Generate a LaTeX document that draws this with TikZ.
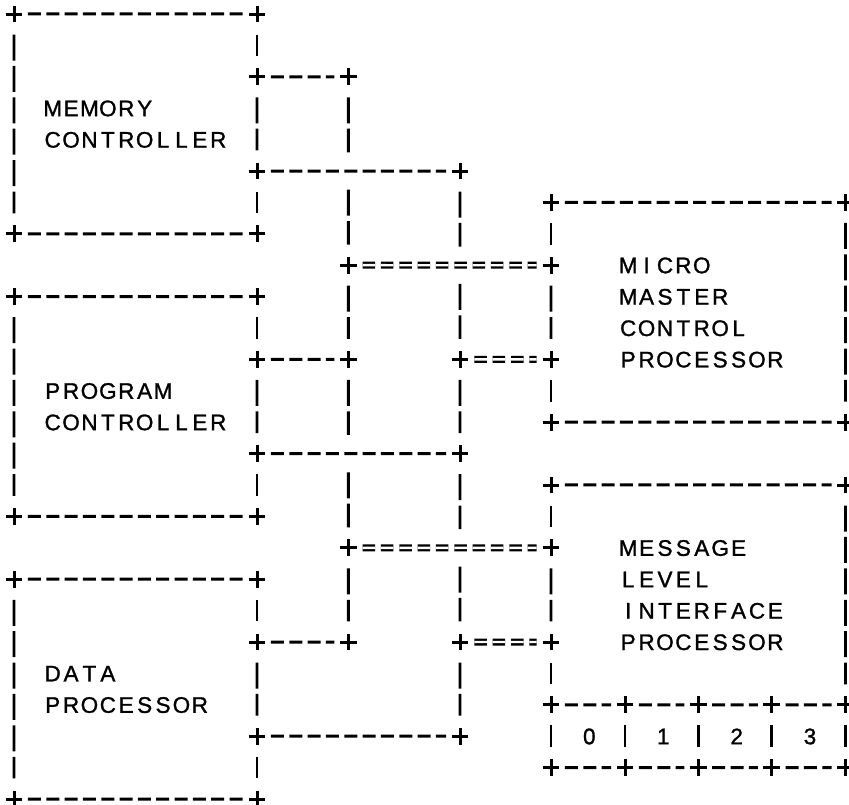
\documentclass[tikz,border=0pt]{standalone}
\usepackage{fontspec}
\setmainfont{Liberation Sans}
\newfontfamily\lettering{Liberation Sans}[FakeBold=1.2]
\usetikzlibrary{shapes.misc}

% fixed-pitch lettering: every character sits in a cell of equal width
\newcommand\cellw{18.4pt}
\newcommand\tracked[1]{\trackedA#1\relax}
\def\trackedA#1{\ifx#1\relax\else\makebox[\cellw][c]{#1}\expandafter\trackedA\fi}

% junction mark at column x, text row r
\newcommand\junc[4][junction]{\node[#1] (#2) at (#3,{14+31.4*#4}) {};}

\begin{document}
\begin{tikzpicture}[x=1pt,y=-1pt,
  junction/.style={cross out, draw, rotate=45, minimum size=8.8pt,
                   inner sep=0pt, line width=3pt},
  hiddenjunc/.style={cross out, rotate=45, minimum size=8.8pt, inner sep=0pt},
  hbus/.style={line width=3pt, dash pattern=on 13pt off 5.33pt,
               shorten <=5.6pt, shorten >=5.6pt},
  vbus/.style={line width=2.9pt, dash pattern=on 26pt off 5.4pt,
               shorten <=12.2pt, shorten >=12.2pt},
  dbus/.style={line width=2.3pt, double, double distance=2.4pt,
               dash pattern=on 12.5pt off 5.83pt,
               shorten <=6pt, shorten >=6pt},
  boxtext/.style={font=\lettering\fontsize{22.5pt}{22.5pt}\selectfont,
                  inner sep=0pt, anchor=base west},
  digit/.style={font=\lettering\fontsize{22.5pt}{22.5pt}\selectfont,
                inner sep=0pt, anchor=base}]

\useasboundingbox (0,0) rectangle (849,804);
\fill[white] (0,0) rectangle (849,804);

% column positions
\def\xA{14}   \def\xB{257}  \def\xC{348.3} \def\xD{460}
\def\xE{551}  \def\xF{845.5}
\def\xGa{625} \def\xGb{698.3} \def\xGc{771.7}

% memory controller box
\junc{A0}{\xA}{0} \junc{B0}{\xB}{0} \junc{B2}{\xB}{2} \junc{B5}{\xB}{5}
\junc{A7}{\xA}{7} \junc{B7}{\xB}{7}
% program controller box
\junc{A9}{\xA}{9} \junc{B9}{\xB}{9} \junc{B11}{\xB}{11} \junc{B14}{\xB}{14}
\junc{A16}{\xA}{16} \junc{B16}{\xB}{16}
% data processor box
\junc{A18}{\xA}{18} \junc{B18}{\xB}{18} \junc{B20}{\xB}{20} \junc{B23}{\xB}{23}
\junc{A25}{\xA}{25} \junc{B25}{\xB}{25}
% bus columns
\junc{C2}{\xC}{2} \junc[hiddenjunc]{C5}{\xC}{5} \junc{C8}{\xC}{8}
\junc{C11}{\xC}{11} \junc[hiddenjunc]{C14}{\xC}{14} \junc{C17}{\xC}{17}
\junc{C20}{\xC}{20}
\junc{D5}{\xD}{5} \junc[hiddenjunc]{D8}{\xD}{8} \junc{D11}{\xD}{11}
\junc{D14}{\xD}{14} \junc[hiddenjunc]{D17}{\xD}{17} \junc{D20}{\xD}{20}
\junc{D23}{\xD}{23}
% micro master control processor box
\junc{E6}{\xE}{6} \junc{F6}{\xF}{6} \junc{E8}{\xE}{8} \junc{E11}{\xE}{11}
\junc{E13}{\xE}{13} \junc{F13}{\xF}{13}
% message level interface processor box with its port strip
\junc{E15}{\xE}{15} \junc{F15}{\xF}{15} \junc{E17}{\xE}{17} \junc{E20}{\xE}{20}
\junc{E22}{\xE}{22} \junc{Ga22}{\xGa}{22} \junc{Gb22}{\xGb}{22}
\junc{Gc22}{\xGc}{22} \junc{F22}{\xF}{22}
\junc{E24}{\xE}{24} \junc{Ga24}{\xGa}{24} \junc{Gb24}{\xGb}{24}
\junc{Gc24}{\xGc}{24} \junc{F24}{\xF}{24}

% single horizontal runs
\foreach \a/\b in {A0/B0, A7/B7, B2/C2, B5/D5, E6/F6, E13/F13,
                   A9/B9, A16/B16, B11/C11, B14/D14, E15/F15,
                   A18/B18, A25/B25, B20/C20, B23/D23,
                   E22/Ga22, Ga22/Gb22, Gb22/Gc22, Gc22/F22,
                   E24/Ga24, Ga24/Gb24, Gb24/Gc24, Gc24/F24}
  \draw[hbus] (\a) -- (\b);

% double horizontal runs
\foreach \a/\b in {C8/E8, D11/E11, C17/E17, D20/E20}
  \draw[dbus] (\a) -- (\b);

% vertical runs
\foreach \a/\b in {A0/A7, A9/A16, A18/A25,
                   B0/B2, B2/B5, B5/B7, B9/B11, B11/B14, B14/B16,
                   B18/B20, B20/B23, B23/B25,
                   C2/C5, C5/C8, C8/C11, C11/C14, C14/C17, C17/C20,
                   D5/D8, D8/D11, D11/D14, D14/D17, D17/D20, D20/D23,
                   E6/E8, E8/E11, E11/E13, F6/F13,
                   E15/E17, E17/E20, E20/E22, E22/E24, F15/F22, F22/F24,
                   Ga22/Ga24, Gb22/Gb24, Gc22/Gc24}
  \draw[vbus] (\a) -- (\b);

% box labels
\node[boxtext] (mem1) at (43.3,{14+31.4*3+8}) {\tracked{MEMORY}};
\node[boxtext] (mem2) at (43.3,{14+31.4*4+8}) {\tracked{CONTROLLER}};
\node[boxtext] (prg1) at (43.3,{14+31.4*12+8}) {\tracked{PROGRAM}};
\node[boxtext] (prg2) at (43.3,{14+31.4*13+8}) {\tracked{CONTROLLER}};
\node[boxtext] (dat1) at (43.3,{14+31.4*21+8}) {\tracked{DATA}};
\node[boxtext] (dat2) at (43.3,{14+31.4*22+8}) {\tracked{PROCESSOR}};
\node[boxtext] (mmc1) at (618.8,{14+31.4*8+8}) {\tracked{MICRO}};
\node[boxtext] (mmc2) at (618.8,{14+31.4*9+8}) {\tracked{MASTER}};
\node[boxtext] (mmc3) at (618.8,{14+31.4*10+8}) {\tracked{CONTROL}};
\node[boxtext] (mmc4) at (618.8,{14+31.4*11+8}) {\tracked{PROCESSOR}};
\node[boxtext] (mli1) at (618.8,{14+31.4*17+8}) {\tracked{MESSAGE}};
\node[boxtext] (mli2) at (618.8,{14+31.4*18+8}) {\tracked{LEVEL}};
\node[boxtext] (mli3) at (618.8,{14+31.4*19+8}) {\tracked{INTERFACE}};
\node[boxtext] (mli4) at (618.8,{14+31.4*20+8}) {\tracked{PROCESSOR}};

% port numbers
\node[digit] (p0) at (589.3,{14+31.4*23+8}) {0};
\node[digit] (p1) at (663.3,{14+31.4*23+8}) {1};
\node[digit] (p2) at (736.7,{14+31.4*23+8}) {2};
\node[digit] (p3) at (810,{14+31.4*23+8}) {3};
\end{tikzpicture}
\end{document}
